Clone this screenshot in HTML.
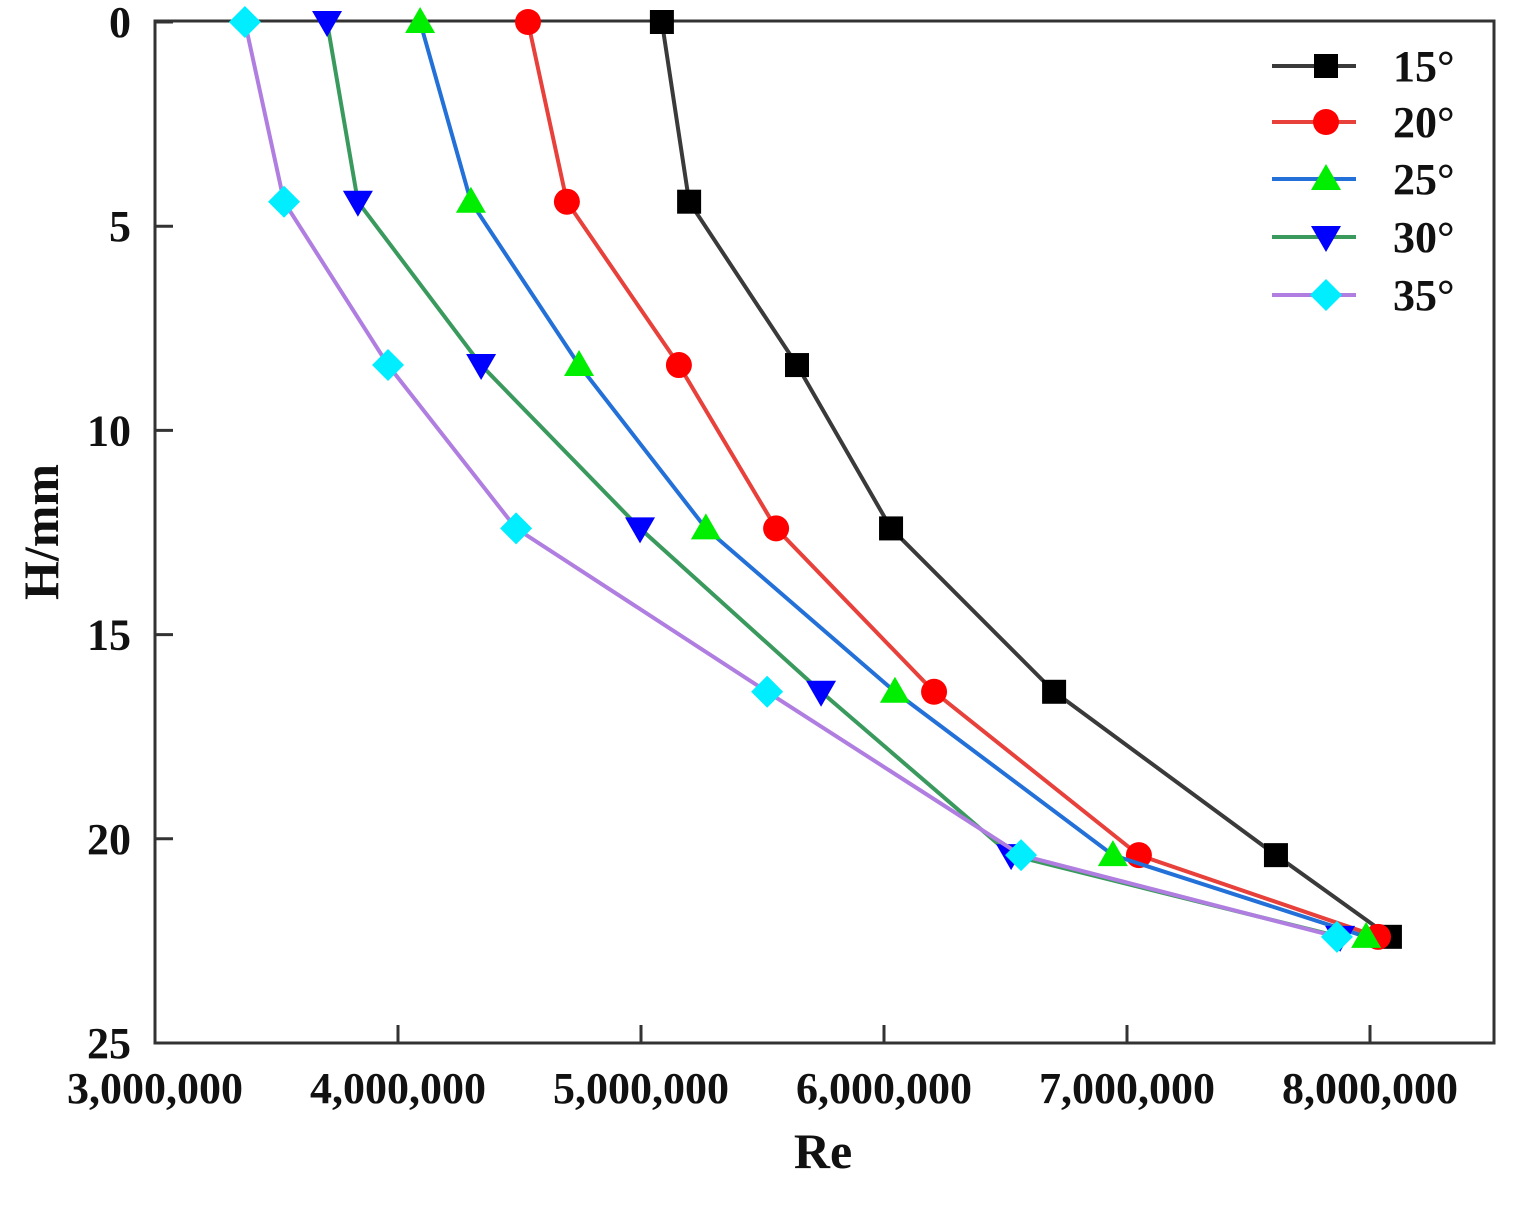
<!DOCTYPE html>
<html><head><meta charset="utf-8"><style>
body{margin:0;background:#fff}
svg text{font-family:"Liberation Serif",serif;font-weight:bold;fill:#111}
</style></head><body>
<svg id="chart" width="1536" height="1218" xmlns="http://www.w3.org/2000/svg"></svg>
<script>
const heights=[0,4.4,8.4,12.4,16.4,20.4,22.4];
const seriesNames=["15°","20°","25°","30°","35°"];
const re15=[5086000,5198000,5642000,6029000,6700000,7613000,8082000];
const re20=[4535000,4695000,5156000,5556000,6206000,7049000,8033000];
const re25=[4091000,4300000,4745000,5267000,6045000,6942000,7984000];
const re30=[3708000,3835000,4342000,4996000,5741000,6523000,7877000];
const re35=[3370000,3531000,3959000,4486000,5519000,6564000,7864000];
const xTicks=[3000000,4000000,5000000,6000000,7000000,8000000];
const yTicks=[0,5,10,15,20,25];

const NS="http://www.w3.org/2000/svg";
const svg=document.getElementById('chart');
const L=155,R=1494,T=21,B=1043;
const xS=v=>L+(v-3000000)*243/1e6;
const yS=v=>22+v*(B-22)/25;
function mk(tag,attrs,parent){const e=document.createElementNS(NS,tag);for(const k in attrs)e.setAttribute(k,attrs[k]);(parent||svg).appendChild(e);return e;}

const frame=mk('rect',{x:L,y:T,width:R-L,height:B-T,fill:'none',stroke:'#333','stroke-width':3});



xTicks.forEach(v=>{
  const t=mk('line',{x1:xS(v),x2:xS(v),y1:B,y2:B-18,stroke:'#333','stroke-width':3});
  
  
  const lb=mk('text',{x:xS(v),y:B+60,'text-anchor':'middle','font-size':44});
  lb.textContent=v.toLocaleString('en-US');
  
  
});
yTicks.forEach(v=>{
  const t=mk('line',{x1:L,x2:L+18,y1:yS(v),y2:yS(v),stroke:'#333','stroke-width':3});
  
  
  const lb=mk('text',{x:131,y:yS(v)+15,'text-anchor':'end','font-size':44});
  lb.textContent=v;
  
  
});
const xt=mk('text',{x:823,y:1168,'text-anchor':'middle','font-size':50});
xt.textContent='Re';


const yt=mk('text',{x:0,y:0,'text-anchor':'middle','font-size':50,transform:'translate(58,532) rotate(-90)'});
yt.textContent='H/mm';



const series=[re15,re20,re25,re30,re35];
const lineC=['#3a3a3a','#e8403a','#2270d8','#3a9a5e','#b07ee0'];
const markC=['#000','#ff0000','#00ee00','#0000ff','#00eeff'];
const shapes=['square','circle','up','down','diamond'];
function marker(shape,x,y,c,g){
  let e;
  if(shape==='square')e=mk('rect',{x:x-12,y:y-12,width:24,height:24,fill:c},g);
  else if(shape==='circle')e=mk('circle',{cx:x,cy:y,r:13,fill:c},g);
  else if(shape==='up')e=mk('polygon',{points:`${x},${y-15} ${x+15},${y+11} ${x-15},${y+11}`,fill:c},g);
  else if(shape==='down')e=mk('polygon',{points:`${x},${y+15} ${x+15},${y-11} ${x-15},${y-11}`,fill:c},g);
  else e=mk('polygon',{points:`${x},${y-16} ${x+16},${y} ${x},${y+16} ${x-16},${y}`,fill:c},g);
  return e;
}
series.forEach((s,i)=>{
  const g=mk('g',{});
  
  
  const pl=mk('polyline',{points:s.map((v,j)=>xS(v)+','+yS(heights[j])).join(' '),fill:'none',stroke:lineC[i],'stroke-width':4},g);
  
  
  s.forEach((v,j)=>{
    const m=marker(shapes[i],xS(v),yS(heights[j]),markC[i],g);
    
    
  });
});
const legY=[66,122,179,237,295];
seriesNames.forEach((n,i)=>{
  const g=mk('g',{});
  
  
  mk('line',{x1:1272,x2:1356,y1:legY[i],y2:legY[i],stroke:lineC[i],'stroke-width':4},g);
  marker(shapes[i],1326,legY[i],markC[i],g);
  const t=mk('text',{x:1393,y:legY[i]+15,'font-size':44},g);
  t.textContent=n;
});
</script>
</body></html>
